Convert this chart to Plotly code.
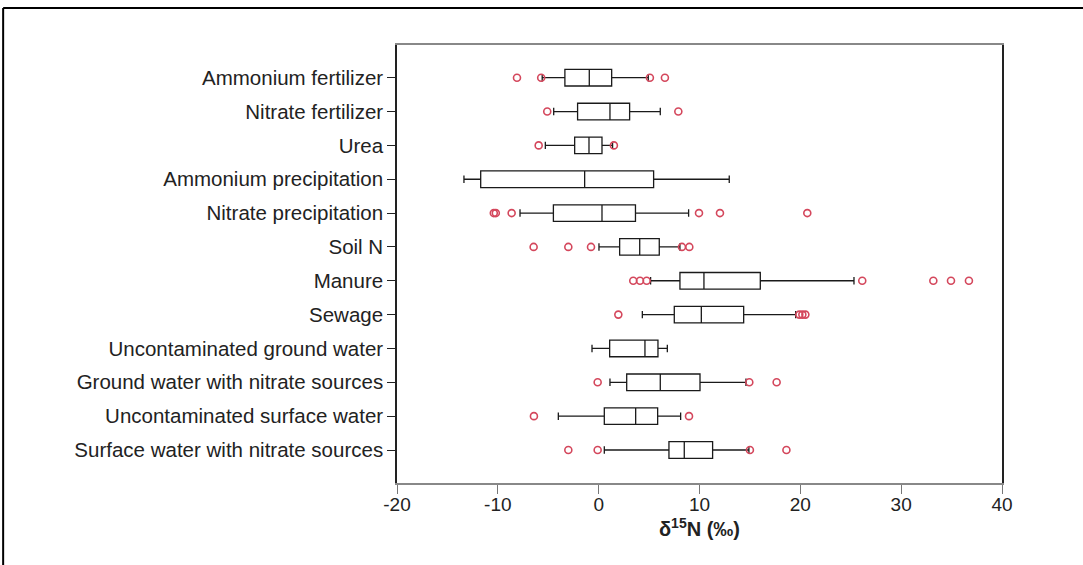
import plotly.graph_objects as go

categories = [
    "Ammonium fertilizer",
    "Nitrate fertilizer",
    "Urea",
    "Ammonium precipitation",
    "Nitrate precipitation",
    "Soil N",
    "Manure",
    "Sewage",
    "Uncontaminated ground water",
    "Ground water with nitrate sources",
    "Uncontaminated surface water",
    "Surface water with nitrate sources",
]

lower_whisker = [-5.6, -4.46, -5.29, -13.36, -7.8, 0.03, 5.15, 4.33, -0.66, 1.12, -4.0, 0.56]
q1_values = [-3.35, -2.09, -2.38, -11.7, -4.49, 2.08, 8.06, 7.5, 1.09, 2.78, 0.56, 6.97]
median_values = [-0.93, 1.12, -0.96, -1.39, 0.33, 4.07, 10.44, 10.18, 4.59, 6.11, 3.67, 8.49]
q3_values = [1.29, 3.07, 0.33, 5.45, 3.65, 6.01, 16.03, 14.38, 5.88, 10.05, 5.85, 11.3]
upper_whisker = [4.92, 6.11, 1.38, 12.95, 8.92, 8.06, 25.32, 19.54, 6.81, 14.61, 8.13, 14.9]

outliers = [
    [-8.1, -5.7, 5.08, 6.57],
    [-5.1, 7.9],
    [-5.95, 1.51],
    [],
    [-10.4, -10.2, -8.63, 9.95, 12.03, 20.69],
    [-6.45, -3.01, -0.76, 8.26, 8.99],
    [3.43, 4.1, 4.76, 26.14, 33.19, 34.94, 36.72],
    [1.95, 19.9, 20.2, 20.5],
    [],
    [-0.1, 14.94, 17.65],
    [-6.42, 8.96],
    [-3.01, -0.1, 15.0, 18.62],
]

x_ticks = [-20, -10, 0, 10, 20, 30, 40]

FONT = "Liberation Sans, Arial, sans-serif"

fig = go.Figure()

fig.add_trace(go.Box(
    y=categories,
    q1=q1_values,
    median=median_values,
    q3=q3_values,
    lowerfence=lower_whisker,
    upperfence=upper_whisker,
    orientation="h",
    boxpoints=False,
    fillcolor="white",
    line=dict(color="#1a1a1a", width=1.3),
    whiskerwidth=0.45,
    showlegend=False,
    hoverinfo="skip",
))

out_x, out_y = [], []
for cat, vals in zip(categories, outliers):
    for v in vals:
        out_x.append(v)
        out_y.append(cat)

fig.add_trace(go.Scatter(
    x=out_x,
    y=out_y,
    mode="markers",
    marker=dict(symbol="circle-open", size=7, color="#d4475c", line=dict(width=1.6, color="#d4475c")),
    showlegend=False,
    hoverinfo="skip",
))

fig.update_layout(
    width=1083,
    height=565,
    margin=dict(l=397, r=81, t=45, b=82),
    paper_bgcolor="white",
    plot_bgcolor="white",
    font=dict(family=FONT, size=20, color="#222222"),
    boxgap=0.3,
    xaxis=dict(
        range=[-20, 40],
        tickvals=x_ticks,
        ticktext=[str(t) for t in x_ticks],
        ticks="outside",
        ticklen=9,
        tickcolor="#777777",
        tickwidth=1,
        ticklabelstandoff=-6,
        showline=True,
        linecolor="#888888",
        linewidth=1.5,
        mirror=True,
        showgrid=False,
        zeroline=False,
        tickfont=dict(size=19, family=FONT, color="#222222"),
        title=dict(
            text="<b>δ<sup>15</sup>N (‰)</b>",
            font=dict(size=20, family=FONT, color="#222222"),
            standoff=2,
        ),
    ),
    yaxis=dict(
        type="category",
        categoryorder="array",
        categoryarray=categories,
        range=[11.975, -0.966],
        ticks="outside",
        ticklen=8,
        tickcolor="#222222",
        tickwidth=1,
        showline=True,
        linecolor="#222222",
        linewidth=1.5,
        mirror=True,
        showgrid=False,
        zeroline=False,
        tickfont=dict(size=20.5, family=FONT, color="#222222"),
    ),
    shapes=[
        dict(type="line", xref="paper", yref="paper",
             x0=-0.651, x1=1.2, y0=1.0845, y1=1.0845,
             line=dict(color="black", width=2)),
        dict(type="line", xref="paper", yref="paper",
             x0=-0.651, x1=-0.651, y0=1.0845, y1=-0.3,
             line=dict(color="black", width=2)),
    ],
)

fig.write_html("out.html")
